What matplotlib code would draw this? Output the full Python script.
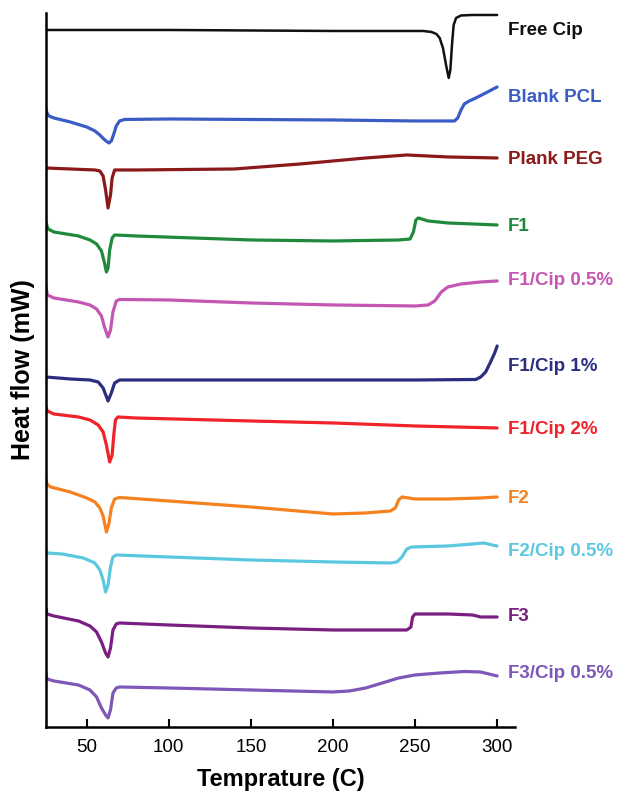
import matplotlib
matplotlib.use("Agg")
import matplotlib.pyplot as plt

plt.rcParams['font.family'] = ['Liberation Sans', 'DejaVu Sans']

# DSC-кривые, значения теплового потока в условных единицах (смещены по вертикали)
names = ["Free Cip", "Blank PCL", "Plank PEG", "F1", "F1/Cip 0.5%", "F1/Cip 1%",
         "F1/Cip 2%", "F2", "F2/Cip 0.5%", "F3", "F3/Cip 0.5%"]
colors = ["#111111", "#3b5cc4", "#8b1a1a", "#1f8a3b", "#c457b2", "#2c2e80",
          "#f0222a", "#f5821f", "#5cc8e0", "#7a1f82", "#7e58b8"]

free_cip_t = [25, 100, 200, 255, 260, 263, 265, 267, 269, 270.5, 271.5, 272.5, 273.5, 275, 278, 285, 300]
free_cip_y = [697, 697, 696, 696, 695, 693, 689, 679, 661, 649, 657, 682, 702, 709, 711.5, 712, 712]

pcl_t = [25, 25.8, 27, 30, 40, 50, 55, 58, 61, 63.5, 65, 66.5, 68, 70, 73, 100, 200, 250, 274,
         276, 278, 280, 283, 287, 293, 300]
pcl_y = [619, 614, 611, 609, 605, 600, 596, 592, 587, 584, 586, 593, 601, 606, 607.5, 608, 607, 606, 606,
         609, 617, 623, 626, 629, 634, 640]

peg_t = [25, 40, 55, 58, 60, 61.5, 63, 64.5, 65.5, 67, 80, 140, 180, 220, 245, 270, 300]
peg_y = [559, 558, 557, 556, 551, 537, 519, 532, 549, 557, 557, 558, 563, 569, 572, 570, 569]

f1_t = [25, 26.5, 30, 45, 52, 56, 59, 61, 62, 63, 64, 65.5, 67, 80, 150, 200, 240, 247, 249,
        250.5, 252, 258, 270, 300]
f1_y = [505, 498, 495, 491, 487, 483, 476, 463, 455, 459, 477, 489, 492, 491, 487, 486, 487, 488, 495,
        507, 509, 506, 504, 502]

f1_05_t = [25, 26, 30, 45, 52, 56, 59, 61, 63, 64.5, 66, 68, 70, 100, 150, 200, 250, 258, 262,
           266, 270, 278, 290, 300]
f1_05_y = [442, 432, 429, 425, 422, 418, 411, 399, 390, 397, 415, 426, 427.5, 427, 424, 422, 421, 422, 426,
           435, 440, 443, 445, 446]

f1_1_t = [25, 40, 52, 57, 60, 63, 65, 67, 70, 150, 250, 287, 290, 293, 296, 298.5, 300]
f1_1_y = [350, 348, 347, 345, 339, 326, 334, 344, 347, 347, 347, 347.5, 350, 355, 365, 374, 381]

f1_2_t = [25, 26, 30, 45, 52, 57, 60, 62, 64, 65.5, 66.5, 67.5, 69, 80, 150, 200, 250, 300]
f1_2_y = [321, 316, 313, 310, 307, 302, 295, 282, 265, 272, 292, 307, 310, 309, 306, 304, 301, 299]

f2_t = [25, 25.8, 28, 40, 50, 55, 58, 60, 62, 63.5, 65, 67, 70, 100, 150, 200, 220, 235, 238,
        240, 242, 250, 270, 290, 300]
f2_y = [249, 243, 240, 235, 229, 225, 219, 211, 195, 203, 219, 228, 229.5, 226, 220, 213, 214, 216, 219,
        227, 230, 228, 228, 229, 230]

f2_05_t = [25, 26, 35, 48, 55, 58, 60, 61.5, 63, 64.5, 66, 68, 100, 150, 200, 235, 239, 242,
           245, 248, 270, 285, 292, 297, 300]
f2_05_y = [177, 174, 173, 169, 164, 157, 147, 135, 142, 160, 170, 172, 170, 167, 165, 164, 165, 170,
           178, 180, 181, 183, 184, 182, 181]

f3_t = [25, 25.8, 30, 45, 52, 56, 59, 61.5, 63, 64.5, 66, 68, 70, 100, 150, 200, 245, 247.5,
        248.5, 250, 270, 285, 290, 300]
f3_y = [120, 113, 111, 106, 101, 95, 85, 74, 70, 79, 97, 103, 104, 102, 99, 97, 97, 100,
        110, 113, 113, 112, 110, 110]

f3_05_t = [25, 25.8, 30, 45, 52, 56, 59, 61.5, 63, 64.5, 66, 68, 70, 100, 150, 200, 210, 220,
           230, 240, 250, 265, 280, 290, 300]
f3_05_y = [55, 48, 46, 42, 37, 30, 19, 12, 9, 17, 34, 39, 40, 39, 37, 35, 36, 39,
           44, 49, 52, 54, 55.5, 55, 51]

temps = [free_cip_t, pcl_t, peg_t, f1_t, f1_05_t, f1_1_t, f1_2_t, f2_t, f2_05_t, f3_t, f3_05_t]
flows = [free_cip_y, pcl_y, peg_y, f1_y, f1_05_y, f1_1_y, f1_2_y, f2_y, f2_05_y, f3_y, f3_05_y]

# положение подписей справа от кривых
label_y = [696, 629, 567, 500, 446, 360, 297, 228, 175, 110, 53]

fig = plt.figure(figsize=(6.17, 7.96), dpi=100)
ax = fig.add_axes([0.074, 0.0867, 0.761, 0.897])

for t, y, c, name, ly in zip(temps, flows, colors, names, label_y):
    lw = 1.8 if name == "Free Cip" else 2.3
    ax.plot(t, y, color=c, lw=lw, solid_capstyle='round', solid_joinstyle='round')
    ax.text(306.5, ly, name, color=c, fontsize=13.5, fontweight='bold',
            ha='left', va='center', clip_on=False)

ax.set_xlim(25, 311)
ax.set_ylim(0, 714)
ax.set_xticks([50, 100, 150, 200, 250, 300])
ax.set_yticks([])
ax.tick_params(axis='x', direction='in', length=6, width=1.5, labelsize=13.5, pad=9)

for s in ['top', 'right']:
    ax.spines[s].set_visible(False)
for s in ['left', 'bottom']:
    ax.spines[s].set_linewidth(1.8)

ax.set_xlabel('Temprature (C)', fontsize=17, fontweight='bold', labelpad=8)
ax.set_ylabel('Heat flow (mW)', fontsize=18, fontweight='bold', labelpad=8)

plt.savefig("out.png", dpi=100)
plt.close()
